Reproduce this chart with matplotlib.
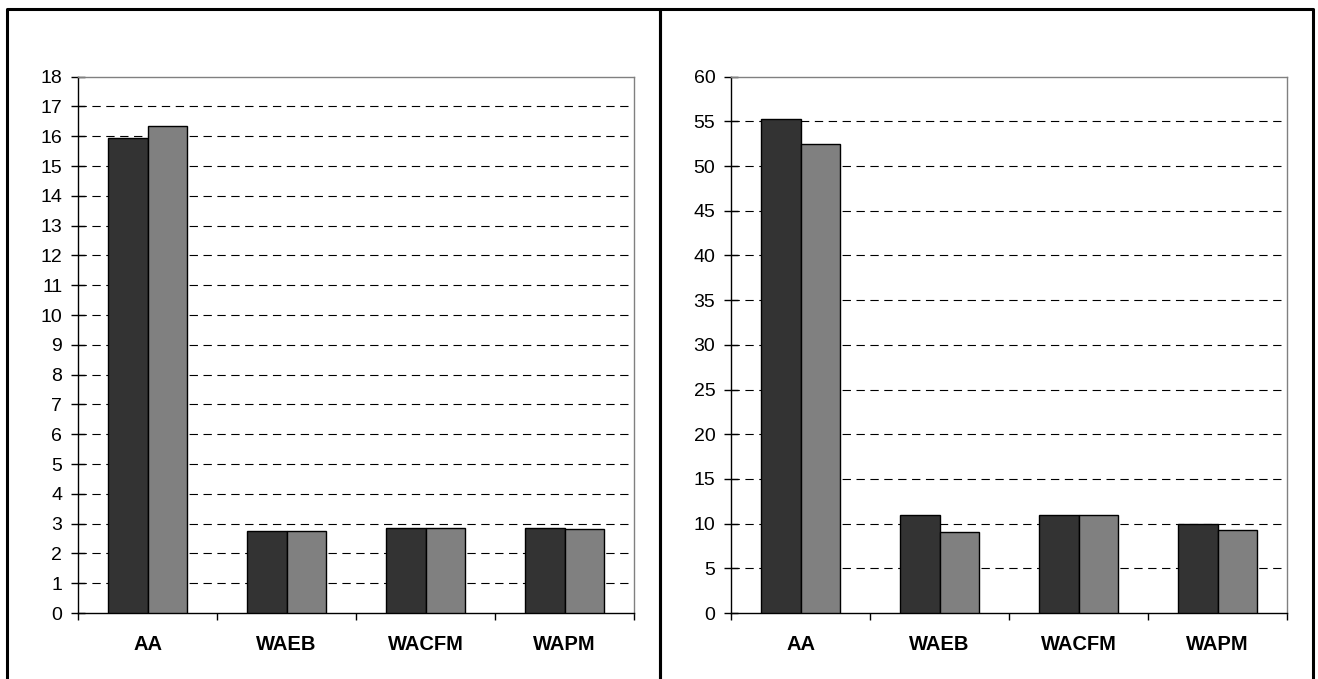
import matplotlib
matplotlib.use("Agg")
import matplotlib.pyplot as plt
from matplotlib.lines import Line2D
import numpy as np

plt.rcParams['font.family'] = ['Liberation Sans', 'DejaVu Sans']

categories = ['AA', 'WAEB', 'WACFM', 'WAPM']

# left chart
left_dark = [15.95, 2.76, 2.84, 2.84]
left_light = [16.34, 2.76, 2.84, 2.81]
left_ticks = list(range(0, 19, 1))

# right chart
right_dark = [55.3, 11.0, 11.0, 9.96]
right_light = [52.45, 9.06, 11.0, 9.28]
right_ticks = list(range(0, 61, 5))

W, H = 1318, 679
fig = plt.figure(figsize=(W / 100, H / 100), dpi=100)


def px_box(x0, y0, x1, y1):
    return [x0 / W, 1 - y1 / H, (x1 - x0) / W, (y1 - y0) / H]


def draw_panel(ax, dark, light, ticks):
    x = np.arange(len(categories))
    bw = 0.285
    ax.bar(x - bw / 2, dark, bw, color='#333333', edgecolor='black', linewidth=1.0, zorder=3)
    ax.bar(x + bw / 2, light, bw, color='#808080', edgecolor='black', linewidth=1.0, zorder=3)
    ax.set_xlim(-0.5, len(categories) - 0.5)
    ax.set_ylim(ticks[0], ticks[-1])
    ax.set_yticks(ticks)
    for t in ticks[1:-1]:
        ax.axhline(t, color='black', linewidth=0.8, linestyle=(0, (7.5, 5)), zorder=1)
    ax.spines['top'].set_color('#808080')
    ax.spines['right'].set_color('#808080')
    ax.spines['left'].set_color('black')
    ax.spines['bottom'].set_color('black')
    for s in ax.spines.values():
        s.set_linewidth(1.0)
    ax.tick_params(axis='y', direction='inout', length=9.5, width=1.0, labelsize=14, pad=6.5)
    ax.set_xticks(np.arange(-0.5, len(categories), 1.0))
    ax.set_xticklabels([])
    ax.tick_params(axis='x', which='major', direction='out', length=5, width=1.0)
    ax.set_xticks(x, minor=True)
    ax.set_xticklabels(categories, minor=True, fontweight='bold', fontsize=14.5)
    ax.tick_params(axis='x', which='minor', length=0, pad=16)


ax1 = fig.add_axes(px_box(78, 76.7, 634, 613))
draw_panel(ax1, left_dark, left_light, left_ticks)

ax2 = fig.add_axes(px_box(731, 76.7, 1287, 613))
draw_panel(ax2, right_dark, right_light, right_ticks)

# outer frames of the two panels (bottom edge falls outside the image)
frame_kw = dict(color='black', linewidth=2.2, transform=fig.transFigure)
for (x0, x1) in [(7, 660), (660, 1313)]:
    xs = [x0 / W, x0 / W, x1 / W, x1 / W]
    ys = [0, 1 - 9 / H, 1 - 9 / H, 0]
    fig.add_artist(Line2D(xs, ys, **frame_kw))

fig.savefig('out.png', dpi=100)
